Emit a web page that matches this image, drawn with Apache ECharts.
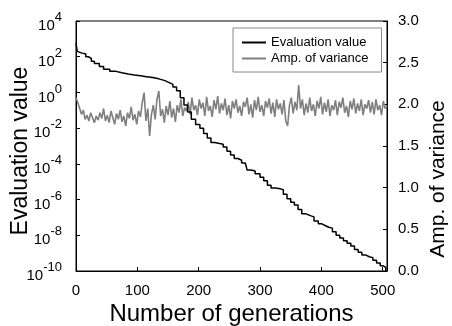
<!DOCTYPE html>
<html>
<head>
<meta charset="utf-8">
<script src="https://cdn.jsdelivr.net/npm/echarts@6/dist/echarts.min.js"></script>
<style>html,body{margin:0;padding:0;background:#fff}#c{width:452px;height:326px}</style>
</head>
<body>
<div id="c"></div>
<script>
// Evaluation value: generation and log10(value)
const evalGen = [0,2,5,10,16,20,25,30,38,45,55,65,75,85,95,105,115,125,135,145,152,158,164,170,176,182,188,195,202,208,214,220,226,232,240,246,252,258,264,270,276,279,285,292,300,306,312,318,325,333,338,344,350,356,362,368,375,382,388,395,400,406,412,418,424,430,436,442,448,454,460,466,472,478,484,490,496,500,505];
const evalExp = [2.75,2.3,2.2,2.15,2.0,1.9,1.75,1.62,1.45,1.3,1.18,1.1,1.03,0.97,0.93,0.88,0.83,0.76,0.66,0.55,0.45,0.3,0.1,-0.3,-0.7,-1.1,-1.5,-1.8,-2.0,-2.3,-2.55,-2.8,-2.85,-2.9,-3.05,-3.3,-3.5,-3.7,-3.8,-3.95,-4.0,-4.35,-4.4,-4.55,-4.75,-4.95,-5.2,-5.35,-5.4,-5.45,-5.7,-5.95,-6.15,-6.3,-6.55,-6.8,-6.9,-6.97,-7.2,-7.35,-7.45,-7.55,-7.6,-7.8,-8.0,-8.15,-8.3,-8.45,-8.6,-8.8,-8.95,-9.1,-9.2,-9.25,-9.4,-9.55,-9.7,-9.8,-10.0];
// Amp. of variance, sampled every 3 generations
const ampStep = 3;
const ampValues = [
2.08,2.02,1.95,1.88,1.93,1.82,1.87,1.80,1.90,1.84,1.78,1.86,1.81,1.90,1.83,1.95,1.80,1.87,1.78,1.92,
1.84,1.76,1.89,1.82,1.93,1.79,1.86,1.74,1.90,1.83,1.97,1.81,1.88,1.76,1.92,1.85,2.02,2.14,1.80,1.95,
1.62,1.88,1.99,1.82,2.06,2.16,1.86,1.94,1.78,1.98,1.87,2.04,1.84,1.95,1.79,1.99,1.90,2.06,1.86,1.96,
1.92,2.03,1.88,2.08,1.93,1.99,1.87,2.06,1.95,2.02,1.86,2.09,1.92,1.98,1.85,2.05,1.94,2.10,1.89,2.01,
1.93,2.07,1.87,1.99,1.83,2.04,1.95,2.06,1.90,1.98,1.86,2.03,1.97,2.08,1.88,2.00,1.84,2.05,1.93,2.09,
1.91,1.99,1.86,2.04,1.96,2.07,1.89,2.02,1.85,2.06,1.94,2.01,1.88,2.05,1.80,1.74,1.99,2.08,1.89,2.03,
1.93,2.23,1.95,2.06,1.87,2.01,1.90,2.08,1.92,2.00,1.86,2.04,1.95,2.09,1.88,2.02,1.91,2.06,1.86,1.99,
1.93,2.05,1.87,2.03,1.96,2.08,1.90,1.98,1.85,2.04,1.94,2.07,1.89,2.01,1.92,2.06,1.87,2.00,1.95,2.05,
1.90,2.03,1.88,2.06,1.93,1.99,1.87,2.04,1.95,1.98];
const xTicks = [0,100,200,300,400,500];
const leftExpTicks = [-10,-8,-6,-4,-2,0,2,4];
const rightTicks = [0.0,0.5,1.0,1.5,2.0,2.5,3.0];

const evalData = evalGen.map((g,i)=>[g, evalExp[i]]);
const ampData = ampValues.map((v,i)=>[i*ampStep, v]);

const FONT = '"Liberation Sans", Arial, sans-serif';
const chart = echarts.init(document.getElementById('c'));
chart.setOption({
  animation:false,
  textStyle:{fontFamily:FONT},
  grid:{left:76,right:65,top:21,bottom:55,outerBoundsMode:'none',containLabel:false,
        show:true,borderColor:'#000',borderWidth:1,backgroundColor:'transparent'},
  legend:{
    orient:'vertical',left:233,top:28,
    padding:[8,13,7,9],itemGap:3,itemWidth:24,itemHeight:2,
    borderColor:'#888',borderWidth:1,backgroundColor:'#fff',
    textStyle:{fontSize:13,color:'#000',fontFamily:FONT},
    data:[{name:'Evaluation value',icon:'rect'},{name:'Amp. of variance',icon:'rect'}]
  },
  xAxis:{
    type:'value',min:0,max:507,interval:100,
    name:'Number of generations',nameLocation:'middle',nameGap:31,nameMoveOverlap:false,
    nameTextStyle:{fontSize:24,color:'#000',fontFamily:FONT},
    axisLine:{onZero:false,lineStyle:{color:'#000',width:1}},
    axisTick:{inside:true,length:4,lineStyle:{color:'#000'}},
    axisLabel:{fontSize:15,color:'#000',margin:12,fontFamily:FONT,showMaxLabel:false,
      formatter:v=>xTicks.includes(v)?String(v):''},
    splitLine:{show:false}
  },
  yAxis:[{
    type:'value',min:-10,max:4,interval:2,position:'left',
    name:'Evaluation value',nameLocation:'middle',nameGap:44,nameRotate:90,nameMoveOverlap:false,
    nameTextStyle:{fontSize:23,color:'#000',fontFamily:FONT,padding:[0,10,0,0]},
    axisLine:{show:true,onZero:false,lineStyle:{color:'#000',width:1}},
    axisTick:{show:true,inside:true,length:4,lineStyle:{color:'#000'}},
    axisLabel:{margin:14,color:'#000',hideOverlap:false,
      formatter:v=>leftExpTicks.includes(v)?'{b|10}{e|'+v+'}':'',
      rich:{b:{fontSize:15,fontFamily:FONT,color:'#000',padding:[10,0,0,0]},
            e:{fontSize:13,fontFamily:FONT,color:'#000',padding:[0,0,7,0]}}},
    splitLine:{show:false}
  },{
    type:'value',min:0,max:3,interval:0.5,position:'right',
    name:'Amp. of variance',nameLocation:'middle',nameGap:41,nameRotate:90,nameMoveOverlap:false,
    nameTextStyle:{fontSize:21,color:'#000',fontFamily:FONT,padding:[0,66,0,0]},
    axisLine:{show:true,onZero:false,lineStyle:{color:'#000',width:1}},
    axisTick:{show:true,inside:true,length:4,lineStyle:{color:'#000'}},
    axisLabel:{fontSize:15,color:'#000',margin:11,fontFamily:FONT,
      formatter:v=>rightTicks.some(t=>Math.abs(t-v)<1e-9)?v.toFixed(1):''},
    splitLine:{show:false}
  }],
  series:[{
    name:'Amp. of variance',type:'line',yAxisIndex:1,data:ampData,
    showSymbol:false,symbol:'none',color:'#7f7f7f',
    lineStyle:{color:'#7f7f7f',width:1.6}
  },{
    name:'Evaluation value',type:'line',yAxisIndex:0,data:evalData,step:'end',
    showSymbol:false,symbol:'none',color:'#000',
    lineStyle:{color:'#000',width:1.5}
  }]
});
</script>
</body>
</html>
